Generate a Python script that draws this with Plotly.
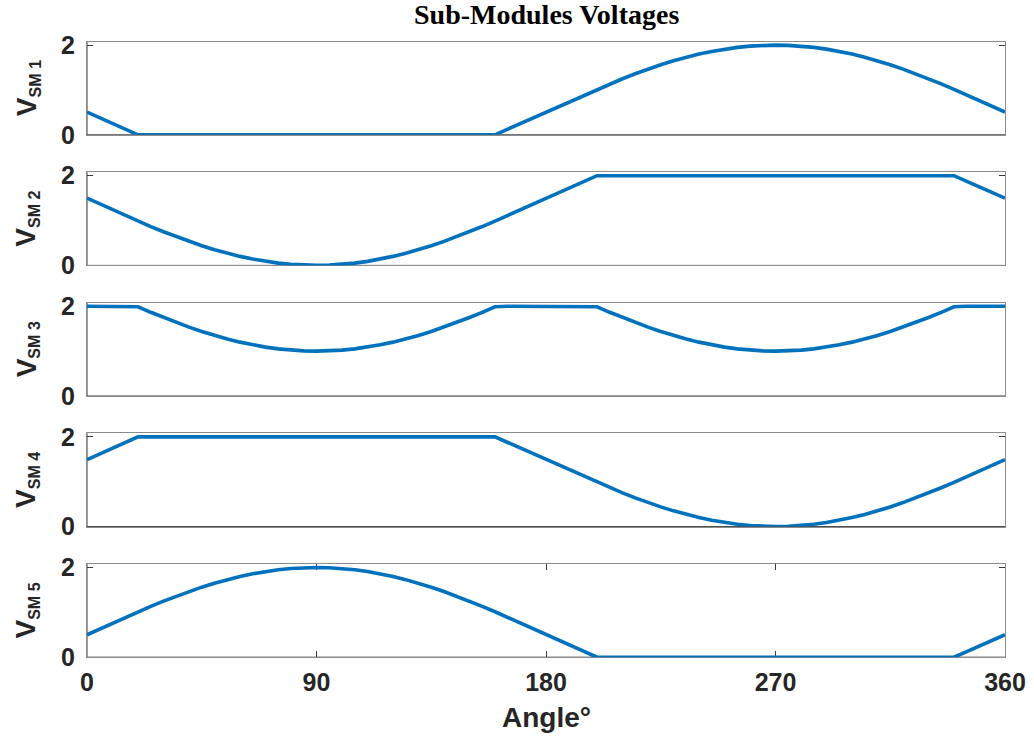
import plotly.graph_objects as go

# ---------------- data (every 5 degrees) ----------------
angle_deg = list(range(0, 361, 5))

v_sm1 = [0.507, 0.380, 0.253, 0.127, 0.000, 0.000, 0.000, 0.000, 0.000, 0.000,
         0.000, 0.000, 0.000, 0.000, 0.000, 0.000, 0.000, 0.000, 0.000, 0.000,
         0.000, 0.000, 0.000, 0.000, 0.000, 0.000, 0.000, 0.000, 0.000, 0.000,
         0.000, 0.000, 0.000, 0.125, 0.250, 0.375, 0.500, 0.631, 0.760, 0.888,
         1.013, 1.134, 1.250, 1.360, 1.464, 1.561, 1.649, 1.729, 1.799, 1.859,
         1.910, 1.949, 1.977, 1.994, 2.000, 1.994, 1.977, 1.949, 1.910, 1.859,
         1.799, 1.729, 1.649, 1.561, 1.464, 1.360, 1.250, 1.134, 1.013, 0.886,
         0.760, 0.633, 0.507]
v_sm2 = [1.500, 1.369, 1.240, 1.112, 0.987, 0.866, 0.750, 0.640, 0.536, 0.439,
         0.351, 0.271, 0.201, 0.141, 0.090, 0.051, 0.023, 0.006, 0.000, 0.006,
         0.023, 0.051, 0.090, 0.141, 0.201, 0.271, 0.351, 0.439, 0.536, 0.640,
         0.750, 0.866, 0.987, 1.114, 1.240, 1.367, 1.493, 1.620, 1.747, 1.873,
         2.000, 2.000, 2.000, 2.000, 2.000, 2.000, 2.000, 2.000, 2.000, 2.000,
         2.000, 2.000, 2.000, 2.000, 2.000, 2.000, 2.000, 2.000, 2.000, 2.000,
         2.000, 2.000, 2.000, 2.000, 2.000, 2.000, 2.000, 2.000, 2.000, 1.875,
         1.750, 1.625, 1.500]
v_sm3 = [2.000, 2.000, 2.000, 2.000, 1.990, 1.866, 1.750, 1.640, 1.536, 1.439,
         1.351, 1.271, 1.201, 1.141, 1.090, 1.051, 1.023, 1.006, 1.000, 1.006,
         1.023, 1.051, 1.090, 1.141, 1.201, 1.271, 1.351, 1.439, 1.536, 1.640,
         1.750, 1.866, 1.990, 2.000, 2.000, 2.000, 2.000, 2.000, 2.000, 2.000,
         1.990, 1.866, 1.750, 1.640, 1.536, 1.439, 1.351, 1.271, 1.201, 1.141,
         1.090, 1.051, 1.023, 1.006, 1.000, 1.006, 1.023, 1.051, 1.090, 1.141,
         1.201, 1.271, 1.351, 1.439, 1.536, 1.640, 1.750, 1.866, 1.990, 2.000,
         2.000, 2.000, 2.000]
v_sm4 = [1.493, 1.620, 1.747, 1.873, 2.000, 2.000, 2.000, 2.000, 2.000, 2.000,
         2.000, 2.000, 2.000, 2.000, 2.000, 2.000, 2.000, 2.000, 2.000, 2.000,
         2.000, 2.000, 2.000, 2.000, 2.000, 2.000, 2.000, 2.000, 2.000, 2.000,
         2.000, 2.000, 2.000, 1.875, 1.750, 1.625, 1.500, 1.369, 1.240, 1.112,
         0.987, 0.866, 0.750, 0.640, 0.536, 0.439, 0.351, 0.271, 0.201, 0.141,
         0.090, 0.051, 0.023, 0.006, 0.000, 0.006, 0.023, 0.051, 0.090, 0.141,
         0.201, 0.271, 0.351, 0.439, 0.536, 0.640, 0.750, 0.866, 0.987, 1.114,
         1.240, 1.367, 1.493]
v_sm5 = [0.500, 0.631, 0.760, 0.888, 1.013, 1.134, 1.250, 1.360, 1.464, 1.561,
         1.649, 1.729, 1.799, 1.859, 1.910, 1.949, 1.977, 1.994, 2.000, 1.994,
         1.977, 1.949, 1.910, 1.859, 1.799, 1.729, 1.649, 1.561, 1.464, 1.360,
         1.250, 1.134, 1.013, 0.886, 0.760, 0.633, 0.507, 0.380, 0.253, 0.127,
         0.000, 0.000, 0.000, 0.000, 0.000, 0.000, 0.000, 0.000, 0.000, 0.000,
         0.000, 0.000, 0.000, 0.000, 0.000, 0.000, 0.000, 0.000, 0.000, 0.000,
         0.000, 0.000, 0.000, 0.000, 0.000, 0.000, 0.000, 0.000, 0.000, 0.125,
         0.250, 0.375, 0.500]

series = [v_sm1, v_sm2, v_sm3, v_sm4, v_sm5]
sm_names = ["SM 1", "SM 2", "SM 3", "SM 4", "SM 5"]
x_ticks = [0, 90, 180, 270, 360]
y_ticks = [0, 2]
title_text = "Sub-Modules Voltages"
x_title = "Angle°"

# ---------------- layout geometry ----------------
W, H = 1034, 736
ML, MR, MT, MB = 87, 29, 41, 78
PH = H - MT - MB
PW = W - ML - MR


def fy(px):
    return (H - MB - px) / PH


def fx(px):
    return (px - ML) / PW


tops = [41.5 + 130.6 * i for i in range(5)]
hgt = 93.3

LINE = "#0072BD"
DARK = "#3c3c3c"
LIGHT = "#8c8c8c"
TXT = "#262626"
SANS = "Liberation Sans, Arial, sans-serif"
tick_font = dict(family=SANS, size=25, color=TXT, weight="bold")

fig = go.Figure()
shapes = []
annotations = []
for i, ys in enumerate(series):
    n = "" if i == 0 else str(i + 1)
    fig.add_trace(go.Scatter(x=angle_deg, y=ys, mode="lines",
                             line=dict(color=LINE, width=3.6),
                             cliponaxis=False, showlegend=False,
                             xaxis="x" + n, yaxis="y" + n,
                             hoverinfo="skip"))
    last = i == 4
    fig.layout["xaxis" + n] = dict(
        domain=[0, 1], range=[0, 360], anchor="y" + n,
        showgrid=False, zeroline=False,
        showline=True, linecolor=LIGHT, linewidth=1,
        mirror="ticks" if last else True,
        ticks="inside" if last else "", ticklen=6, tickcolor=DARK, tickwidth=1,
        tickvals=x_ticks, ticktext=[str(v) for v in x_ticks],
        showticklabels=last, tickfont=tick_font, ticklabelstandoff=3,
        layer="below traces", fixedrange=True)
    top = tops[i]
    bot = top + hgt
    fig.layout["yaxis" + n] = dict(
        domain=[fy(bot), fy(top)], range=[0, 2.08], anchor="x" + n,
        showgrid=False, zeroline=False,
        showline=True, linecolor=LIGHT, linewidth=1, mirror="ticks",
        ticks="inside", ticklen=6, tickcolor=DARK, tickwidth=1,
        tickvals=y_ticks, ticktext=[str(v) for v in y_ticks],
        tickfont=tick_font, ticklabelstandoff=6,
        layer="below traces", fixedrange=True)
    # darker bottom / left box edges
    shapes.append(dict(type="line", xref="x" + n + " domain", yref="y" + n + " domain",
                       x0=0, x1=1, y0=0, y1=0, line=dict(color=DARK, width=1),
                       layer="below"))
    shapes.append(dict(type="line", xref="x" + n + " domain", yref="y" + n + " domain",
                       x0=0, x1=0, y0=0, y1=1, line=dict(color=DARK, width=1),
                       layer="below"))
    annotations.append(dict(
        text='<b><span style="font-size:28px">V</span><sub>' + sm_names[i] + '</sub></b>',
        textangle=-90, showarrow=False,
        xref="paper", yref="paper", x=fx(27), y=fy(top + hgt / 2),
        xanchor="center", yanchor="middle",
        font=dict(family=SANS, size=23, color=TXT, weight="bold")))

annotations.append(dict(
    text="<b>" + x_title + "</b>", showarrow=False, xref="paper", yref="paper",
    x=fx(546), y=fy(717), xanchor="center", yanchor="middle",
    font=dict(family=SANS, size=28, color=TXT, weight="bold")))
annotations.append(dict(
    text="<b>" + title_text + "</b>", showarrow=False, xref="paper", yref="paper",
    x=fx(546), y=fy(15), xanchor="center", yanchor="middle",
    font=dict(family="Liberation Serif, Times New Roman, serif", size=28,
              color="#000000")))

fig.update_layout(
    width=W, height=H,
    margin=dict(l=ML, r=MR, t=MT, b=MB, autoexpand=False),
    paper_bgcolor="white", plot_bgcolor="white",
    shapes=shapes, annotations=annotations,
    showlegend=False,
)

fig.write_html("out.html", config={"displayModeBar": False})
